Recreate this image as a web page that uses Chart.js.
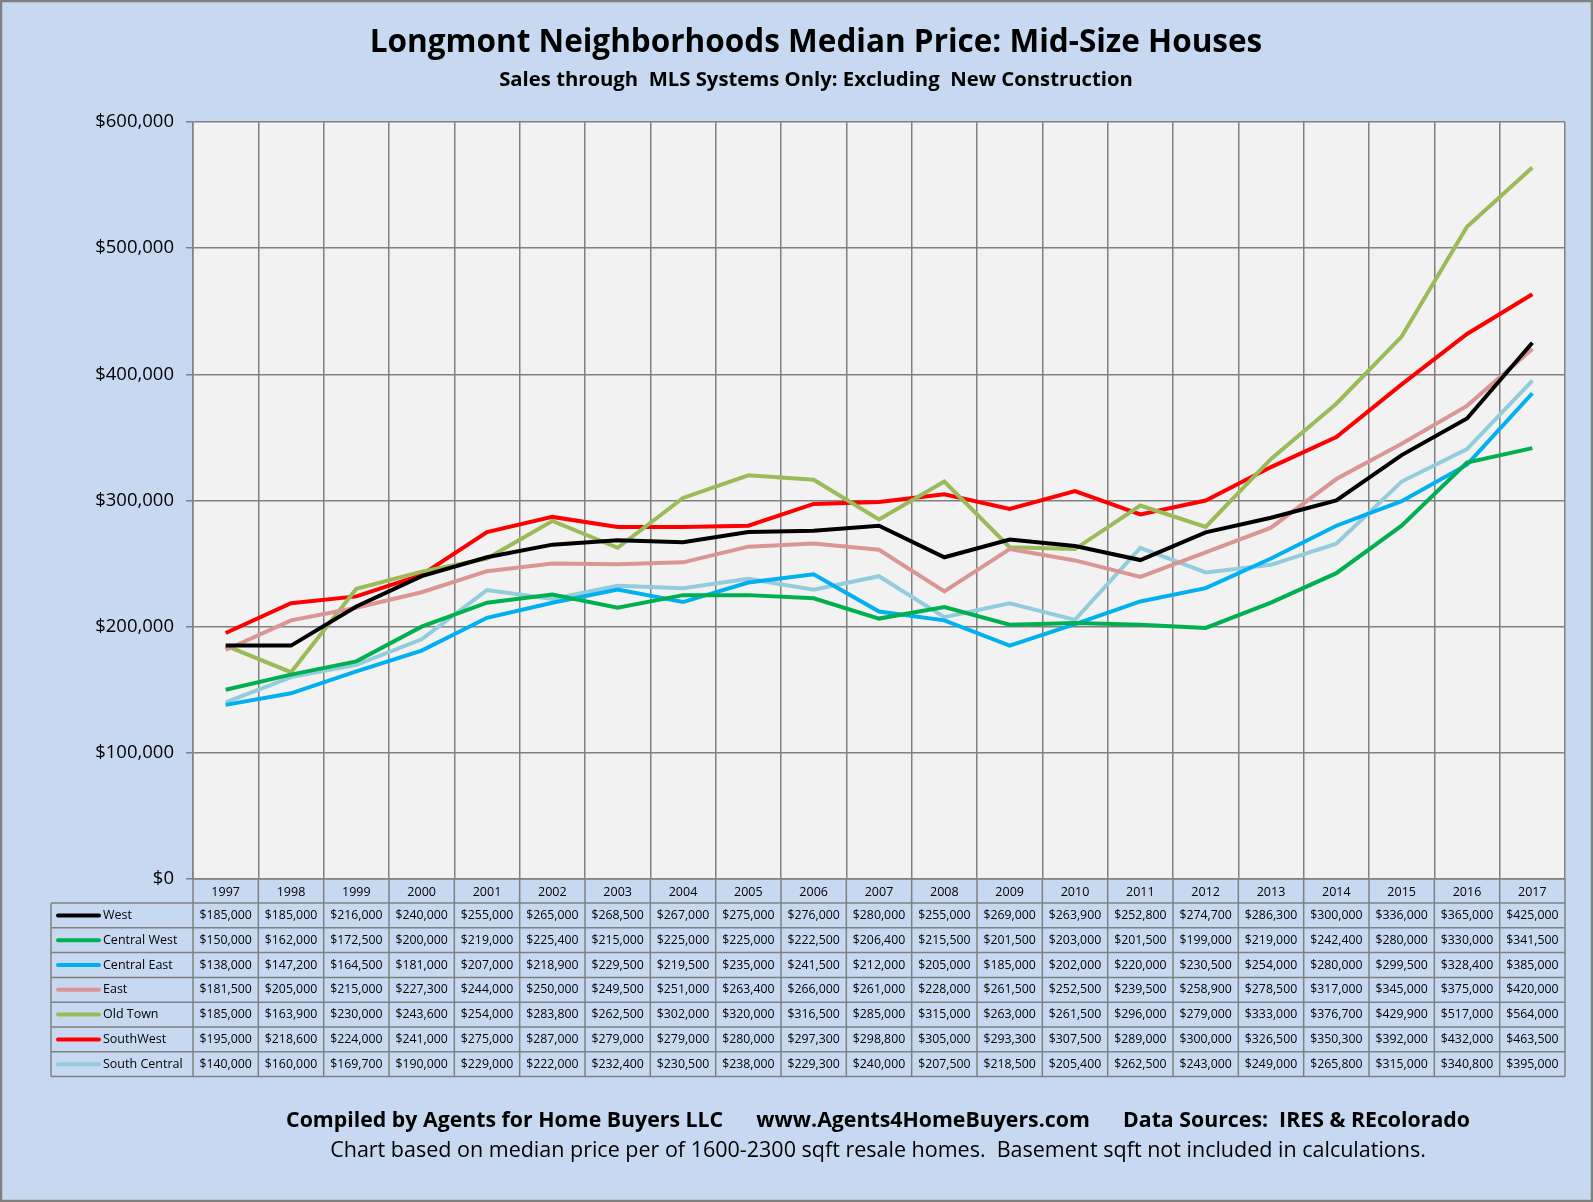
<!DOCTYPE html>
<html><head><meta charset="utf-8">
<script src="https://cdn.jsdelivr.net/npm/chart.js@4"></script>
<style>html,body{margin:0;padding:0;background:#c6d9f0;}canvas{display:block}</style>
</head><body>
<div style="width:1593px;height:1202px;position:relative"><canvas id="c"></canvas></div>
<script>
const years = ['1997','1998','1999','2000','2001','2002','2003','2004','2005','2006','2007','2008','2009','2010','2011','2012','2013','2014','2015','2016','2017'];
const yTicks = [0,100000,200000,300000,400000,500000,600000];
const west = [185000,185000,216000,240000,255000,265000,268500,267000,275000,276000,280000,255000,269000,263900,252800,274700,286300,300000,336000,365000,425000];
const centralWest = [150000,162000,172500,200000,219000,225400,215000,225000,225000,222500,206400,215500,201500,203000,201500,199000,219000,242400,280000,330000,341500];
const centralEast = [138000,147200,164500,181000,207000,218900,229500,219500,235000,241500,212000,205000,185000,202000,220000,230500,254000,280000,299500,328400,385000];
const east = [181500,205000,215000,227300,244000,250000,249500,251000,263400,266000,261000,228000,261500,252500,239500,258900,278500,317000,345000,375000,420000];
const oldTown = [185000,163900,230000,243600,254000,283800,262500,302000,320000,316500,285000,315000,263000,261500,296000,279000,333000,376700,429900,517000,564000];
const southWest = [195000,218600,224000,241000,275000,287000,279000,279000,280000,297300,298800,305000,293300,307500,289000,300000,326500,350300,392000,432000,463500];
const southCentral = [140000,160000,169700,190000,229000,222000,232400,230500,238000,229300,240000,207500,218500,205400,262500,243000,249000,265800,315000,340800,395000];

const seriesNames = ['West','Central West','Central East','East','Old Town','SouthWest','South Central'];
const seriesData = [west,centralWest,centralEast,east,oldTown,southWest,southCentral];
const seriesColors = ['#000000','#00b050','#00b0f0','#da9694','#9bbb59','#ff0000','#93cddd'];

const fmt = v => '$' + v.toLocaleString('en-US');
const FONT = '"Open Sans", "Liberation Sans", sans-serif';

const deco = {
  id:'deco',
  beforeDraw(chart){
    const {ctx, chartArea:a} = chart;
    ctx.save();
    ctx.fillStyle='#c6d9f0'; ctx.fillRect(0,0,chart.width,chart.height);
    ctx.fillStyle='#f2f2f2'; ctx.fillRect(a.left,a.top,a.right-a.left,a.bottom-a.top);
    ctx.restore();
  },
  afterDraw(chart){
    const {ctx, chartArea:a} = chart;
    const xs = chart.scales.x;
    ctx.save();
    ctx.fillStyle='#000'; ctx.textAlign='center'; ctx.textBaseline='middle';
    ctx.font='bold 31.5px '+FONT; ctx.fillText('Longmont Neighborhoods Median Price: Mid-Size Houses', 816, 43);
    ctx.font='bold 20.3px '+FONT; ctx.fillText('Sales through  MLS Systems Only: Excluding  New Construction', 816, 80);
    const top=a.bottom, hdr=24, rowH=24.8, left=51;
    const half=(xs.getPixelForValue(1)-xs.getPixelForValue(0))/2;
    const bottom=top+hdr+rowH*7;
    ctx.strokeStyle='#808080'; ctx.lineWidth=1.5;
    for(let i=0;i<=years.length;i++){
      const x = i<years.length ? xs.getPixelForValue(i)-half : xs.getPixelForValue(years.length-1)+half;
      ctx.beginPath(); ctx.moveTo(x,top); ctx.lineTo(x,bottom); ctx.stroke();
    }
    ctx.beginPath(); ctx.moveTo(left,top+hdr); ctx.lineTo(left,bottom); ctx.stroke();
    for(let r=0;r<=7;r++){
      const y=top+hdr+r*rowH;
      ctx.beginPath(); ctx.moveTo(left,y); ctx.lineTo(a.right,y); ctx.stroke();
    }
    ctx.fillStyle='#000'; ctx.textAlign='center';
    ctx.font='12.5px '+FONT;
    years.forEach((yr,i)=>ctx.fillText(yr, xs.getPixelForValue(i), top+hdr/2+1));
    ctx.font='12.3px '+FONT;
    seriesData.forEach((d,r)=>{
      const cy=top+hdr+r*rowH+rowH/2;
      d.forEach((v,i)=>ctx.fillText(fmt(v), xs.getPixelForValue(i), cy));
    });
    ctx.textAlign='left';
    ctx.font='12.5px '+FONT;
    seriesNames.forEach((n,r)=>{
      const cy=top+hdr+r*rowH+rowH/2;
      ctx.strokeStyle=seriesColors[r]; ctx.lineWidth=4; ctx.lineCap='round';
      ctx.beginPath(); ctx.moveTo(58,cy); ctx.lineTo(99,cy); ctx.stroke();
      ctx.fillText(n,103,cy);
    });
    ctx.textAlign='center';
    ctx.font='bold 21.3px '+FONT;
    ctx.fillText('Compiled by Agents for Home Buyers LLC      www.Agents4HomeBuyers.com      Data Sources:  IRES & REcolorado', 878, 1121);
    ctx.font='21.5px '+FONT;
    ctx.fillText('Chart based on median price per of 1600-2300 sqft resale homes.  Basement sqft not included in calculations.', 878, 1151);
    ctx.strokeStyle='#808080'; ctx.lineWidth=2.5; ctx.strokeRect(1,1,chart.width-2,chart.height-2);
    ctx.restore();
  }
};

new Chart(document.getElementById('c'), {
  type:'line',
  data:{
    labels:years,
    datasets: seriesNames.map((n,i)=>({label:n,data:seriesData[i],borderColor:seriesColors[i],backgroundColor:seriesColors[i],borderWidth:4,pointRadius:0,tension:0,fill:false}))
  },
  options:{
    responsive:true, maintainAspectRatio:false, animation:false,
    layout:{padding:{top:122,right:28,bottom:323,left:0}},
    plugins:{legend:{display:false},tooltip:{enabled:false}},
    scales:{
      x:{offset:true, grid:{offset:true,color:'#808080',lineWidth:1.5,drawTicks:false}, border:{color:'#808080',width:1.5}, ticks:{display:false}},
      y:{min:0,max:600000,afterFit:s=>{s.width=193;},
        afterBuildTicks:s=>{s.ticks=yTicks.map(v=>({value:v}));},
        grid:{color:'#808080',lineWidth:1.5,tickLength:7},
        border:{color:'#808080',width:1.5},
        ticks:{padding:12,color:'#000',font:{family:FONT,size:18.5},callback:v=>fmt(v)}}
    }
  },
  plugins:[deco]
});
</script>
</body></html>
